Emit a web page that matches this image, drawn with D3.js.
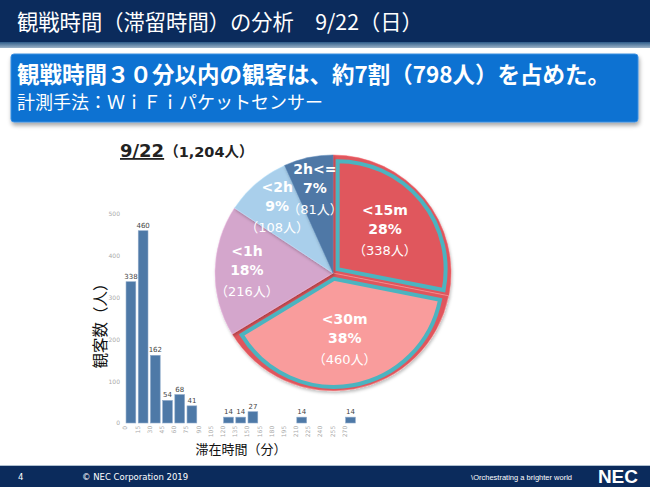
<!DOCTYPE html>
<html><head><meta charset="utf-8">
<script src="https://cdn.jsdelivr.net/npm/d3@7"></script>
<style>body{margin:0;background:#fff}svg{display:block}</style>
</head><body>
<script>
// ---- data ----
const binLabels = ["0","15","30","45","60","75","90","105","120","135","150","165","180","195","210","225","240","255","270"];
const binValues = [338,460,162,54,68,41,0,0,14,14,27,0,0,0,14,0,0,0,14];
const yTicks = [0,100,200,300,400,500];
const pieCats = ["<15m","<30m","<1h","<2h","2h<="];
const piePct = ["28%","38%","18%","9%","7%"];
const pieCounts = [338,460,216,108,81];
const pieColors = ["#E0575D","#F99C9C","#D4A6CC","#A9CFEB","#4F78A6"];
const highlighted = ["<15m","<30m"];

const JP = "'Noto Sans CJK JP','Noto Sans',sans-serif";
const LAT = "'DejaVu Sans','Noto Sans CJK JP',sans-serif";
const W = 650, H = 487;
const svg = d3.select("body").append("svg").attr("width", W).attr("height", H);
const defs = svg.append("defs");
const f = defs.append("filter").attr("id","sh").attr("x","-10%").attr("y","-10%").attr("width","130%").attr("height","140%");
f.append("feDropShadow").attr("dx",1).attr("dy",3).attr("stdDeviation",2).attr("flood-color","#000").attr("flood-opacity",0.35);
const f2 = defs.append("filter").attr("id","psh").attr("x","-10%").attr("y","-10%").attr("width","130%").attr("height","130%");
f2.append("feDropShadow").attr("dx",1).attr("dy",2).attr("stdDeviation",1.5).attr("flood-color","#000").attr("flood-opacity",0.25);

// ---- header ----
svg.append("rect").attr("x",0).attr("y",0).attr("width",W).attr("height",42).attr("fill","#0B2B5C");
const hg = defs.append("linearGradient").attr("id","hg").attr("x1",0).attr("x2",0).attr("y1",0).attr("y2",1);
hg.append("stop").attr("offset","0%").attr("stop-color","#2E5C8A");
hg.append("stop").attr("offset","100%").attr("stop-color","#9DB3C8");
svg.append("rect").attr("x",0).attr("y",42).attr("width",W).attr("height",6).attr("fill","url(#hg)");
svg.append("text").attr("x",17).attr("y",30).attr("fill","#fff").attr("font-family",JP).attr("font-size",21.3)
  .text("観戦時間（滞留時間）の分析　9/22（日）");

// ---- message box ----
svg.append("rect").attr("x",11).attr("y",54).attr("width",627).attr("height",68).attr("rx",3)
  .attr("fill","#0B72D2").attr("stroke","#3C8FE0").attr("stroke-width",1).attr("filter","url(#sh)");
svg.append("text").attr("x",17).attr("y",83).attr("fill","#fff").attr("font-family",JP).attr("font-weight","bold").attr("font-size",22.5)
  .text("観戦時間３０分以内の観客は、約7割（798人）を占めた。");
svg.append("text").attr("x",17).attr("y",109).attr("fill","#fff").attr("font-family",JP).attr("font-size",18)
  .text("計測手法：ＷｉＦｉパケットセンサー");

// ---- subtitle ----
const st = svg.append("text").attr("x",120).attr("y",157).attr("fill","#222").attr("font-family",LAT).attr("font-weight","bold");
st.append("tspan").attr("font-size",18).attr("text-decoration","underline").text("9/22");
st.append("tspan").attr("font-size",14.5).text("（1,204人）");

// ---- bar chart ----
const x = d3.scaleBand().domain(binLabels).range([123.6, 357.8]).padding(0.2);
const y = d3.scaleLinear().domain([0,500]).range([423,214]);
const barData = binLabels.map((l,i)=>({l,v:binValues[i]})).filter(d=>d.v>0);
const bars = svg.append("g");
bars.selectAll("rect").data(barData).join("rect")
  .attr("x",d=>x(d.l)).attr("width",x.bandwidth()).attr("y",d=>y(d.v)).attr("height",d=>y(0)-y(d.v))
  .attr("fill","#4E79A7").attr("stroke","#8FAACB").attr("stroke-width",0.6);
bars.selectAll("text").data(barData).join("text")
  .attr("x",d=>x(d.l)+x.bandwidth()/2).attr("y",d=>y(d.v)-3).attr("text-anchor","middle")
  .attr("font-family",LAT).attr("font-size",7).attr("fill","#444").text(d=>d.v);

const yAxis = svg.append("g").attr("transform","translate(124,0)")
  .call(d3.axisLeft(y).tickValues(yTicks).tickSize(0).tickPadding(4));
yAxis.select(".domain").remove();
yAxis.selectAll("text").attr("font-family",LAT).attr("font-size",6).attr("fill","#aaa");

const xAxis = svg.append("g").attr("transform","translate(0,424)")
  .call(d3.axisBottom(x).tickSize(0).tickPadding(3));
xAxis.select(".domain").remove();
xAxis.selectAll("text").attr("font-family",LAT).attr("font-size",6).attr("fill","#aaa")
  .attr("text-anchor","end").attr("dx","-0.3em").attr("dy","-0.6em")
  .attr("x",0).attr("y",0).attr("transform","rotate(-90)");

svg.append("text").attr("transform","translate(102,322) rotate(-90)").attr("text-anchor","middle").attr("dominant-baseline","middle")
  .attr("font-family",JP).attr("font-size",15.5).attr("fill","#111").text("観客数（人）");
svg.append("text").attr("x",241).attr("y",454).attr("text-anchor","middle")
  .attr("font-family",JP).attr("font-size",13).attr("fill","#111").text("滞在時間（分）");

// ---- pie ----
const cx = 333, cy = 273, R = 118;
const pieData = d3.pie().sort(null).value(d=>d.v)(pieCats.map((c,i)=>({c,v:pieCounts[i],p:piePct[i],col:pieColors[i]})));
const arc = d3.arc().innerRadius(0).outerRadius(R);
const arcHi = d3.arc().innerRadius(0).outerRadius(R-10);
const pg = svg.append("g").attr("transform",`translate(${cx},${cy})`);
pg.selectAll("path.base").data(pieData).join("path").attr("class","base")
  .attr("d",arc).attr("fill",d=>highlighted.includes(d.data.c)?"#E0575D":d.data.col)
  .attr("stroke",d=>d3.color(d.data.col).brighter(0.3)).attr("stroke-width",0.5).attr("filter","url(#psh)");
const off = d=>{const a=(d.startAngle+d.endAngle)/2;return [Math.sin(a)*6,-Math.cos(a)*6];};
pg.selectAll("path.hi").data(pieData.filter(d=>highlighted.includes(d.data.c))).join("path").attr("class","hi")
  .attr("transform",d=>`translate(${off(d)})`)
  .attr("d",arcHi).attr("fill",d=>d.data.col).attr("stroke","#4BB4C0").attr("stroke-width",4).attr("stroke-linejoin","miter");
const labR = d=>highlighted.includes(d.data.c)?0.57:0.73;
const lab = pg.selectAll("text").data(pieData).join("text")
  .attr("transform",d=>{const a=(d.startAngle+d.endAngle)/2;const r=R*labR(d);return `translate(${Math.sin(a)*r},${-Math.cos(a)*r})`;})
  .attr("text-anchor","middle").attr("fill","#fff").attr("font-family",LAT).attr("font-weight","bold").attr("font-size",14);
lab.append("tspan").attr("x",0).attr("y",-15).text(d=>d.data.c);
lab.append("tspan").attr("x",0).attr("y",4).text(d=>d.data.p);
lab.append("tspan").attr("x",0).attr("y",25).attr("font-weight","normal").attr("font-size",13).text(d=>`（${d.data.v}人）`);

// ---- footer ----
svg.append("rect").attr("x",0).attr("y",465).attr("width",W).attr("height",1).attr("fill","#AFC0D0");
svg.append("rect").attr("x",0).attr("y",466).attr("width",W).attr("height",21).attr("fill","#0B2B5C");
svg.append("text").attr("x",18).attr("y",480).attr("fill","#fff").attr("font-family",LAT).attr("font-size",8.5).text("4");
svg.append("text").attr("x",82).attr("y",480).attr("fill","#fff").attr("font-family",LAT).attr("font-size",8.5).text("© NEC Corporation 2019");
svg.append("text").attr("x",572).attr("y",480).attr("text-anchor","end").attr("fill","#fff").attr("font-family","'Liberation Sans Narrow','Liberation Sans',sans-serif").attr("font-size",7.5).text("\\Orchestrating a brighter world");
svg.append("text").attr("x",638).attr("y",483).attr("text-anchor","end").attr("fill","#fff").attr("font-family","'Liberation Sans',sans-serif").attr("font-weight","bold").attr("font-size",19).text("NEC");
</script>
</body></html>
